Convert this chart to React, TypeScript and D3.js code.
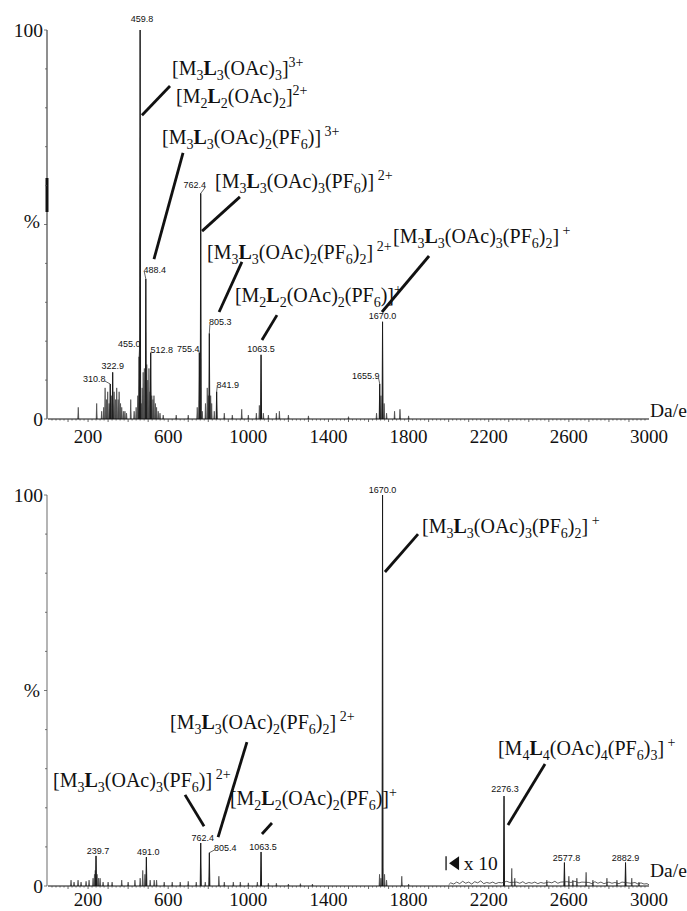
import React from 'react';
import * as d3 from 'd3';

const W = 687;
const H = 911;

// shared axis
const xTickLabels = [200, 600, 1000, 1400, 1800, 2200, 2600, 3000];

// ---- top spectrum ----
// labelled peaks [m/z, %]
const topLabelledPeaks: [number, number][] = [
  [459.8, 100], [488.4, 36], [762.4, 58], [805.3, 22], [1063.5, 16.5],
  [1670.0, 25], [1655.9, 9], [455.0, 16], [512.8, 17], [755.4, 17],
  [841.9, 7], [322.9, 12], [310.8, 9],
];
// unlabelled peaks [m/z, %]
const topMinorPeaks: [number, number][] = [
  [151, 3], [243, 4], [268, 2], [278, 3], [285, 8], [292, 5], [298, 7], [305, 4],
  [316, 6], [330, 7], [337, 5], [343, 8], [350, 5], [355, 7], [362, 4], [368, 3],
  [376, 2], [384, 2], [392, 1.5], [413, 5], [430, 2], [440, 3], [448, 6], [466, 4],
  [470, 8], [475, 12], [481, 13], [493, 14], [498, 10], [504, 13], [508, 7],
  [518, 6], [524, 5], [529, 6], [536, 4], [542, 3], [550, 2], [559, 1.5], [575, 1],
  [640, 1], [700, 1], [745, 3], [770, 2], [786, 4], [795, 8], [800, 6], [812, 6],
  [817, 4], [830, 2], [880, 1.5], [920, 1], [967, 2.5], [1000, 1], [1040, 1.5],
  [1055, 3.5], [1075, 1.5], [1100, 1], [1140, 1.5], [1155, 2], [1200, 1],
  [1300, 0.8], [1500, 0.6], [1640, 1.5], [1662, 6], [1678, 4], [1690, 1.5],
  [1730, 2], [1757, 2.5], [1800, 0.8],
];
const topIons = [
  '[M_3*L*_3(OAc)_3]^3+',
  '[M_2*L*_2(OAc)_2]^2+',
  '[M_3*L*_3(OAc)_2(PF_6)]^ 3+',
  '[M_3*L*_3(OAc)_3(PF_6)]^ 2+',
  '[M_3*L*_3(OAc)_2(PF_6)_2]^ 2+',
  '[M_2*L*_2(OAc)_2(PF_6)]^+',
  '[M_3*L*_3(OAc)_3(PF_6)_2]^ +',
];

// ---- bottom spectrum ----
const bottomLabelledPeaks: [number, number][] = [
  [1670.0, 100], [762.4, 11], [805.4, 8.5], [1063.5, 8.7], [239.7, 7.7],
  [491.0, 7.4], [2276.3, 23], [2577.8, 6], [2882.9, 6],
];
const bottomMinorPeaks: [number, number][] = [
  [115, 1.5], [130, 1], [150, 1.5], [165, 1], [190, 1.2], [205, 1.5], [225, 2],
  [232, 3], [236, 4], [245, 3], [252, 2], [260, 2], [275, 1], [300, 1], [320, 1],
  [368, 1.5], [400, 1], [434, 1.5], [460, 2], [473, 4], [484, 3], [510, 1.5],
  [530, 1.5], [542, 1.5], [580, 1], [620, 1], [660, 1], [700, 1.2], [740, 1],
  [785, 1], [853, 2.5], [880, 1], [925, 1], [960, 1], [1000, 0.8], [1045, 1],
  [1100, 0.7], [1140, 0.7], [1200, 0.5], [1260, 0.6], [1320, 0.5], [1655, 3],
  [1662, 2], [1680, 3], [1690, 1.5], [1766, 2.5], [1800, 0.5],
  [2315, 4.5], [2330, 2], [2490, 1.5], [2600, 2.5], [2620, 1.5], [2640, 2],
  [2686, 3.5], [2720, 1.5], [2790, 2], [2840, 1.5], [2914, 2], [2950, 1],
];
// x10 expanded baseline trace [m/z, %]
const bottomTraceX10: [number, number][] = [
  [2000, 0.3], [2010, 0.8], [2025, 0.5], [2040, 1.0], [2055, 0.6], [2070, 1.2],
  [2085, 0.7], [2100, 1.0], [2115, 0.5], [2130, 1.1], [2145, 0.8], [2160, 1.3],
  [2175, 0.6], [2190, 0.9], [2205, 0.7], [2220, 1.0], [2235, 0.6], [2250, 0.9],
  [2265, 0.8], [2290, 1.2], [2305, 0.9], [2340, 1.0], [2355, 0.7], [2370, 1.1],
  [2385, 0.6], [2400, 0.9], [2415, 0.7], [2430, 1.0], [2445, 0.6], [2460, 0.9],
  [2475, 0.7], [2500, 1.0], [2515, 0.8], [2530, 1.2], [2545, 0.7], [2560, 1.0],
  [2590, 1.1], [2610, 0.9], [2630, 1.2], [2650, 0.8], [2665, 1.0], [2700, 0.9],
  [2715, 0.6], [2730, 1.1], [2745, 0.7], [2760, 1.0], [2775, 0.6], [2800, 1.0],
  [2815, 0.7], [2830, 0.9], [2850, 0.6], [2865, 1.0], [2895, 0.8], [2910, 0.7],
  [2930, 0.9], [2945, 0.5], [2960, 0.8], [2975, 0.5], [2990, 0.6], [3000, 0.3],
];
const bottomIons = [
  '[M_3*L*_3(OAc)_3(PF_6)_2]^ +',
  '[M_3*L*_3(OAc)_2(PF_6)_2]^ 2+',
  '[M_3*L*_3(OAc)_3(PF_6)]^ 2+',
  '[M_2*L*_2(OAc)_2(PF_6)]^+',
  '[M_4*L*_4(OAc)_4(PF_6)_3]^ +',
];

// ---- layout (kept apart from the data) ----
type IonPlace = { at: [number, number]; from?: [number, number]; to?: [number, number] };
// text start and leader ends, in data units [m/z, %]
const topIonPlaces: IonPlace[] = [
  { at: [619, 88.4] },
  { at: [639, 81.2], from: [609, 85.6], to: [469, 78.1] },
  { at: [569, 70.7], from: [674, 68.4], to: [529, 41.1] },
  { at: [834, 59.4], from: [958, 57.1], to: [769, 48.3] },
  { at: [794, 41.1], from: [968, 40.4], to: [854, 27.5] },
  { at: [933, 30.1], from: [1143, 26.7], to: [1068, 20.3] },
  { at: [1722, 45.2], from: [1902, 41.9], to: [1667, 27.5] },
];
const bottomIonPlaces: IonPlace[] = [
  { at: [1867, 90.3], from: [1847, 90.0], to: [1682, 80.3] },
  { at: [609, 40.2], from: [993, 36.8], to: [849, 12.5] },
  { at: [25, 25.3], from: [684, 23.3], to: [779, 15.3] },
  { at: [908, 20.7], from: [1118, 16.1], to: [1068, 13.3] },
  { at: [2246, 33.5], from: [2481, 31.2], to: [2296, 15.6] },
];
// label centre offset from the peak top, in px
const topLabelOffsets: Record<string, [number, number]> = {
  '459.8': [2, -11], '488.4': [9, -9], '762.4': [-6, -8], '805.3': [11, -11],
  '1063.5': [0, -6], '1670.0': [0, -6], '1655.9': [-14, -8], '455.0': [-10, -13],
  '512.8': [11, -3], '755.4': [-11, -4], '841.9': [11, -7], '322.9': [0, -6],
  '310.8': [-16, -5],
};
const bottomLabelOffsets: Record<string, [number, number]> = {
  '1670.0': [0, -5], '762.4': [2, -5], '805.4': [16, -5], '1063.5': [2, -5],
  '239.7': [2, -5], '491.0': [2, -5], '2276.3': [1, -7], '2577.8': [2, -5],
  '2882.9': [0, -5],
};

const SERIF = '"Liberation Serif", "Times New Roman", serif';
const SANS = '"Liberation Sans", Arial, sans-serif';

function parseIon(s: string) {
  const parts: { t: string; kind: string }[] = [];
  const re = /\*([^*]+)\*|_(.)|\^(.+)$|([^*_^]+)/g;
  let m: RegExpExecArray | null;
  while ((m = re.exec(s))) {
    if (m[1]) parts.push({ t: m[1], kind: 'b' });
    else if (m[2]) parts.push({ t: m[2], kind: 'sub' });
    else if (m[3]) parts.push({ t: m[3], kind: 'sup' });
    else parts.push({ t: m[4], kind: 'n' });
  }
  return parts;
}

function Ion({ x, y, text }: { x: number; y: number; text: string }) {
  const parts = parseIon(text);
  let cur = 0;
  return (
    <text x={x} y={y} fontFamily={SERIF} fontSize={20} fill="#111">
      {parts.map((p, i) => {
        const off = p.kind === 'sub' ? 5 : p.kind === 'sup' ? -8 : 0;
        const dy = off - cur;
        cur = off;
        const small = p.kind === 'sub' || p.kind === 'sup';
        return (
          <tspan key={i} dy={dy} fontSize={small ? 14 : undefined}
            fontWeight={p.kind === 'b' ? 'bold' : undefined} style={{ whiteSpace: 'pre' }}>
            {p.t}
          </tspan>
        );
      })}
    </text>
  );
}

type PanelProps = {
  yTop: number;
  yBase: number;
  labelled: [number, number][];
  minor: [number, number][];
  offsets: Record<string, [number, number]>;
  ions: string[];
  places: IonPlace[];
  trace?: [number, number][];
  axisColor: string;
  daeBaseline: number;
  tickBaseline: number;
  pctBaseline: number;
  thickAxis?: [number, number];
};

function Panel(p: PanelProps) {
  const x = d3.scaleLinear().domain([0, 3000]).range([48, 649]);
  const y = d3.scaleLinear().domain([0, 100]).range([p.yBase, p.yTop]);
  const peakPath = (mz: number, pct: number, hw: number) =>
    d3.line()([[x(mz - hw), y(0)], [x(mz), y(pct)], [x(mz + hw), y(0)]]) as string;
  const traceLine = d3.line<[number, number]>().x(d => x(d[0])).y(d => y(d[1]));
  const minorTicks = d3.range(20, 3000, 20);
  const yTicks = d3.range(0, 101, 10);

  return (
    <g>
      {/* peaks */}
      {p.minor.map(([mz, pct], i) => (
        <path key={'m' + i} d={peakPath(mz, pct, 2.5)} fill="#444" stroke="#444" strokeWidth={0.7} />
      ))}
      {p.labelled.map(([mz, pct], i) => (
        <path key={'l' + i} d={peakPath(mz, pct, 2.5)} fill="#1a1a1a" stroke="#1a1a1a" strokeWidth={1} />
      ))}
      {p.trace && (
        <path d={traceLine(p.trace) as string} fill="none" stroke="#333" strokeWidth={0.8} />
      )}

      {/* x axis */}
      <line x1={x(0)} x2={x(3000)} y1={y(0)} y2={y(0)} stroke="#111" strokeWidth={1.2} />
      {minorTicks.map(t => (
        <line key={t} x1={x(t)} x2={x(t)} y1={y(0)} y2={y(0) + (t % 100 === 0 ? 3 : 1.5)}
          stroke="#444" strokeWidth={0.8} />
      ))}
      {xTickLabels.map(t => (
        <text key={t} x={x(t)} y={p.tickBaseline} textAnchor="middle" fontFamily={SERIF}
          fontSize={19} fill="#111">{t}</text>
      ))}
      <text x={x(3000) + 1} y={p.daeBaseline} fontFamily={SERIF} fontSize={19.5} fill="#111">Da/e</text>

      {/* y axis */}
      <line x1={x(0) - 1} x2={x(0) - 1} y1={y(0)} y2={y(100)} stroke={p.axisColor} strokeWidth={1.1} />
      {p.thickAxis && (
        <line x1={x(0) - 1} x2={x(0) - 1} y1={p.thickAxis[0]} y2={p.thickAxis[1]} stroke="#111" strokeWidth={3} />
      )}
      {yTicks.map(t => (
        <line key={t} x1={x(0) - 1} x2={x(0) - (t % 50 === 0 ? 4 : 3)} y1={y(t)} y2={y(t)}
          stroke="#555" strokeWidth={0.8} />
      ))}
      <text x={x(0) - 5} y={y(100) + 7} textAnchor="end" fontFamily={SERIF} fontSize={19.5} fill="#111">100</text>
      <text x={x(0) - 8} y={p.pctBaseline} textAnchor="end" fontFamily={SERIF} fontSize={19.5} fill="#111">%</text>
      <text x={x(0) - 5} y={y(0) + 7} textAnchor="end" fontFamily={SERIF} fontSize={19.5} fill="#111">0</text>

      {/* peak labels */}
      {p.labelled.map(([mz, pct]) => {
        const key = mz.toFixed(1);
        const [dx, dy] = p.offsets[key] || [0, -6];
        const px = x(mz);
        const py = y(pct);
        const lx = px + dx;
        const ly = py + dy;
        const half = key.length * 2.3;
        const side = Math.abs(dx) > 4;
        return (
          <g key={key}>
            {side && (
              <line x1={px} y1={py} x2={dx > 0 ? lx - half + 1 : lx + half - 1} y2={ly + 2}
                stroke="#222" strokeWidth={0.7} />
            )}
            <text x={lx} y={ly + 3} textAnchor="middle" fontFamily={SANS} fontSize={9} fill="#111">{key}</text>
          </g>
        );
      })}

      {/* ion annotations */}
      {p.ions.map((ion, i) => {
        const pl = p.places[i];
        return (
          <g key={i}>
            {pl.from && pl.to && (
              <line x1={x(pl.from[0])} y1={y(pl.from[1])} x2={x(pl.to[0])} y2={y(pl.to[1])}
                stroke="#111" strokeWidth={2.8} />
            )}
            <Ion x={x(pl.at[0])} y={y(pl.at[1])} text={ion} />
          </g>
        );
      })}
    </g>
  );
}

export default function App() {
  // x10 marker, placed with the bottom panel's scales
  const xb = d3.scaleLinear().domain([0, 3000]).range([48, 649]);
  const yb = d3.scaleLinear().domain([0, 100]).range([886, 495]);
  const markM = 1987;
  return (
    <svg width={W} height={H} style={{ position: 'absolute', left: 0, top: 0, background: '#fff' }}>
      <Panel yTop={30} yBase={419} labelled={topLabelledPeaks} minor={topMinorPeaks}
        offsets={topLabelOffsets} ions={topIons} places={topIonPlaces} axisColor="#333"
        daeBaseline={417} tickBaseline={443} pctBaseline={228} thickAxis={[178, 212]} />
      <Panel yTop={495} yBase={886} labelled={bottomLabelledPeaks} minor={bottomMinorPeaks}
        offsets={bottomLabelOffsets} ions={bottomIons} places={bottomIonPlaces}
        trace={bottomTraceX10} axisColor="#777"
        daeBaseline={877} tickBaseline={906} pctBaseline={697} />
      {/* x10 marker */}
      <line x1={xb(markM)} x2={xb(markM)} y1={yb(7.6)} y2={yb(4)} stroke="#111" strokeWidth={1.3} />
      <path d={d3.line()([[xb(markM + 15), yb(5.8)], [xb(markM + 65), yb(7.6)], [xb(markM + 65), yb(4)]]) + 'Z'}
        fill="#111" />
      <text x={xb(markM + 88)} y={yb(4.2)} fontFamily={SERIF} fontSize={19.5} fill="#111">x 10</text>
    </svg>
  );
}
